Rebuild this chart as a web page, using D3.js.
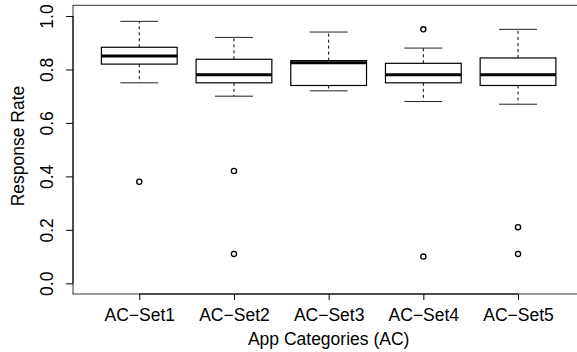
<!DOCTYPE html>
<html>
<head>
<meta charset="utf-8">
<script src="https://cdn.jsdelivr.net/npm/d3@7"></script>
<style>
  body { margin: 0; background: #fff; }
  svg { display: block; }
  text { font-family: "Liberation Sans", Arial, sans-serif; font-size: 17.5px; fill: #000; }
</style>
</head>
<body>
<svg id="chart" width="577" height="352"></svg>
<script>
// box stats
const categories = ['AC\u2212Set1', 'AC\u2212Set2', 'AC\u2212Set3', 'AC\u2212Set4', 'AC\u2212Set5']
const whiskerLow = [0.75, 0.70, 0.72, 0.68, 0.67]
const q1 = [0.82, 0.75, 0.74, 0.75, 0.74]
const medians = [0.85, 0.78, 0.825, 0.78, 0.78]
const q3 = [0.883, 0.838, 0.833, 0.823, 0.843]
const whiskerHigh = [0.98, 0.92, 0.94, 0.88, 0.95]
const outliers = [[0.38], [0.42, 0.11], [], [0.95, 0.10], [0.21, 0.11]]
const yTicks = [0, 0.2, 0.4, 0.6, 0.8, 1.0]

const svg = d3.select('#chart')
const dim = { left: 73, right: 584.3, top: 5.3, bottom: 294 }
const font = '"Liberation Sans", Arial, sans-serif'

const x = d3.scaleLinear().domain([0.3, 5.7]).range([dim.left, dim.right])
const y = d3.scaleLinear().domain([-0.04, 1.04]).range([dim.bottom, dim.top])

const boxes = categories.map((c, i) => ({
  pos: i + 1, lo: whiskerLow[i], q1: q1[i], med: medians[i], q3: q3[i], hi: whiskerHigh[i], out: outliers[i]
}))

// plot frame
svg.append('rect')
  .attr('x', dim.left).attr('y', dim.top)
  .attr('width', dim.right - dim.left).attr('height', dim.bottom - dim.top)
  .attr('fill', 'none').attr('stroke', '#333').attr('stroke-width', 1)

// y axis
const gy = svg.append('g').attr('transform', `translate(${dim.left},0)`)
  .call(d3.axisLeft(y).tickValues(yTicks).tickSize(7).tickFormat(d3.format('.1f')))
gy.select('.domain').attr('d', `M0,${y(0)}V${y(1)}`).attr('stroke', '#000')
gy.selectAll('.tick line').attr('stroke', '#000')
gy.selectAll('.tick text')
  .attr('x', 0).attr('y', 0).attr('dy', 0)
  .attr('transform', 'translate(-20,0) rotate(-90)')
  .attr('text-anchor', 'middle')
  .style('font-size', '17.5px').style('font-family', font)

// x axis
const gx = svg.append('g').attr('transform', `translate(0,${dim.bottom})`)
  .call(d3.axisBottom(x).tickValues(d3.range(1, categories.length + 1)).tickSize(6).tickFormat((d) => categories[d - 1]))
gx.select('.domain').attr('d', `M${x(1)},0H${x(categories.length)}`).attr('stroke', '#000')
gx.selectAll('.tick line').attr('stroke', '#000')
gx.selectAll('.tick text')
  .attr('y', 27).attr('dy', 0)
  .style('font-size', '17.5px').style('font-family', font)

// axis titles
svg.append('text')
  .attr('x', (dim.left + dim.right) / 2).attr('y', 345)
  .attr('text-anchor', 'middle')
  .text('App Categories (AC)')

svg.append('text')
  .attr('transform', 'translate(24,146) rotate(-90)')
  .attr('text-anchor', 'middle')
  .text('Response Rate')

// boxes
const half = 0.4
const g = svg.append('g')

const bx = g.selectAll('g.box').data(boxes).enter().append('g').attr('class', 'box')

bx.append('line') // upper whisker
  .attr('x1', (d) => x(d.pos)).attr('x2', (d) => x(d.pos))
  .attr('y1', (d) => y(d.q3)).attr('y2', (d) => y(d.hi))
  .attr('stroke', '#000').attr('stroke-dasharray', '3,3')

bx.append('line') // lower whisker
  .attr('x1', (d) => x(d.pos)).attr('x2', (d) => x(d.pos))
  .attr('y1', (d) => y(d.q1)).attr('y2', (d) => y(d.lo))
  .attr('stroke', '#000').attr('stroke-dasharray', '3,3')

bx.selectAll('line.cap').data((d) => [d, d].map((e, k) => ({ pos: e.pos, v: k ? e.hi : e.lo })))
  .enter().append('line').attr('class', 'cap')
  .attr('x1', (d) => x(d.pos - half / 2)).attr('x2', (d) => x(d.pos + half / 2))
  .attr('y1', (d) => y(d.v)).attr('y2', (d) => y(d.v))
  .attr('stroke', '#222')

bx.append('rect')
  .attr('x', (d) => x(d.pos - half)).attr('width', (d) => x(d.pos + half) - x(d.pos - half))
  .attr('y', (d) => y(d.q3)).attr('height', (d) => y(d.q1) - y(d.q3))
  .attr('fill', '#fff').attr('stroke', '#000').attr('stroke-width', 1.2)

bx.append('line') // median
  .attr('x1', (d) => x(d.pos - half)).attr('x2', (d) => x(d.pos + half))
  .attr('y1', (d) => y(d.med)).attr('y2', (d) => y(d.med))
  .attr('stroke', '#000').attr('stroke-width', 3)

bx.selectAll('circle').data((d) => d.out.map((v) => ({ pos: d.pos, v })))
  .enter().append('circle')
  .attr('cx', (d) => x(d.pos)).attr('cy', (d) => y(d.v))
  .attr('r', 2.6)
  .attr('fill', 'none').attr('stroke', '#000').attr('stroke-width', 1.3)
</script>
</body>
</html>
